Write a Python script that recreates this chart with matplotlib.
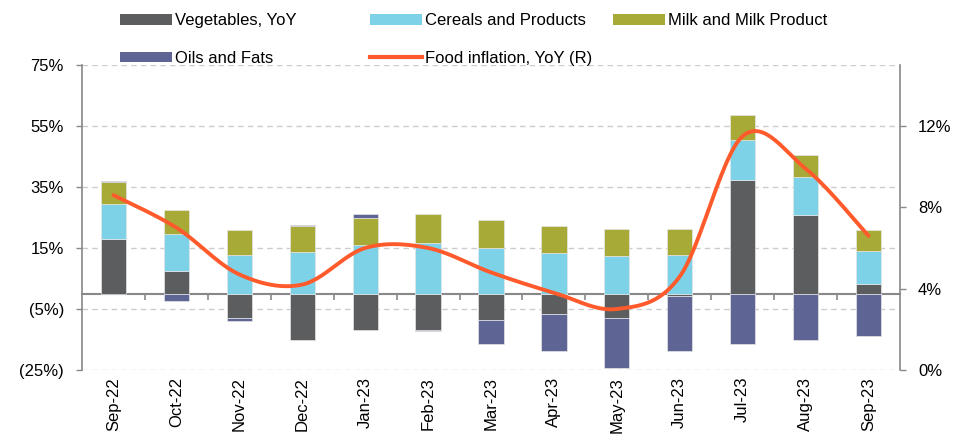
import numpy as np
import matplotlib.pyplot as plt
from matplotlib.patches import Patch
from matplotlib.lines import Line2D
from matplotlib.ticker import FuncFormatter

plt.rcParams["font.family"] = ["Liberation Sans", "DejaVu Sans"]
plt.rcParams["font.size"] = 12

months = ["Sep-22", "Oct-22", "Nov-22", "Dec-22", "Jan-23", "Feb-23", "Mar-23",
          "Apr-23", "May-23", "Jun-23", "Jul-23", "Aug-23", "Sep-23"]

# left axis, % YoY
vegetables = [17.8, 7.4, -8.1, -15.3, -11.9, -12.0, -8.7, -6.8, -8.1, -0.8, 37.2, 25.9, 3.2]
cereals = [11.7, 12.3, 12.7, 13.7, 16.1, 16.6, 15.0, 13.4, 12.5, 12.7, 13.1, 12.4, 10.9]
milk = [7.1, 7.6, 8.2, 8.5, 8.7, 9.6, 9.3, 8.9, 8.8, 8.4, 8.3, 7.2, 6.9]
oils = [0.4, -2.3, -0.9, 0.4, 1.4, -0.3, -7.8, -12.0, -16.2, -18.0, -16.5, -15.0, -13.9]

# right axis, %
food_inflation = [8.6, 7.0, 4.7, 4.2, 6.0, 6.0, 4.8, 3.8, 3.0, 4.6, 11.5, 9.9, 6.6]

series = [
    ("Vegetables, YoY", vegetables, "#5c5d5f"),
    ("Cereals and Products", cereals, "#7dd2e7"),
    ("Milk and Milk Product", milk, "#a7aa37"),
    ("Oils and Fats", oils, "#5e6595"),
]
line_color = "#ff5a2c"
axis_color = "#888888"


def smooth(xs, ys, n=30):
    """Excel-like smoothed line (Catmull-Rom as cubic Bezier)."""
    p = np.column_stack([xs, ys]).astype(float)
    p = np.vstack([p[0], p, p[-1]])
    t = np.linspace(0, 1, n)[:, None]
    out = []
    for i in range(1, len(p) - 2):
        p0, p1, p2, p3 = p[i - 1], p[i], p[i + 1], p[i + 2]
        c1 = p1 + (p2 - p0) / 6
        c2 = p2 - (p3 - p1) / 6
        seg = ((1 - t) ** 3) * p1 + 3 * ((1 - t) ** 2) * t * c1 + 3 * (1 - t) * t ** 2 * c2 + t ** 3 * p2
        out.append(seg if i == 1 else seg[1:])
    out = np.vstack(out)
    return out[:, 0], out[:, 1]


fig = plt.figure(figsize=(9.73, 4.40), dpi=100)
ax = fig.add_axes([82 / 973, 70 / 440, 818 / 973, 305 / 440])

x = np.arange(len(months))
pos_bottom = np.zeros(len(months))
neg_bottom = np.zeros(len(months))
for name, vals, color in series:
    v = np.array(vals)
    bottom = np.where(v >= 0, pos_bottom, neg_bottom)
    ax.bar(x, v, 0.4, bottom=bottom, color=color, edgecolor="#e6e6e6",
           linewidth=0.5, zorder=2)
    pos_bottom = pos_bottom + np.where(v >= 0, v, 0)
    neg_bottom = neg_bottom + np.where(v < 0, v, 0)

ax.set_xlim(-0.5, len(months) - 0.5)
ax.set_ylim(-25, 75)
ax.set_yticks(np.arange(-25, 76, 20))
ax.yaxis.set_major_formatter(FuncFormatter(
    lambda v, p: f"({abs(v):.0f}%)" if v < 0 else f"{v:.0f}%"))
ax.grid(axis="y", color="#cccccc", linestyle=(0, (4, 3)), linewidth=1.0, zorder=0)
ax.set_axisbelow(True)

ax.set_xticks(x)
ax.set_xticklabels(months, rotation=90)
ax.tick_params(axis="x", length=0, pad=5)
ax.tick_params(axis="y", length=4, color=axis_color, width=1, pad=9)
for s in ["top", "bottom", "right"]:
    ax.spines[s].set_visible(False)
ax.spines["left"].set_color(axis_color)
ax.spines["left"].set_linewidth(1.2)

# category axis drawn at zero
zero_ax = ax.secondary_xaxis(25 / 100)
zero_ax.set_xticks(np.arange(0.5, len(months) - 1, 1))
zero_ax.tick_params(axis="x", direction="out", length=4, color=axis_color,
                    width=1.2, labelbottom=False, labeltop=False)
zero_ax.spines["bottom"].set_color(axis_color)
zero_ax.spines["bottom"].set_linewidth(1.5)

ax2 = ax.twinx()
sx, sy = smooth(x, food_inflation)
ax2.plot(sx, sy, color=line_color, linewidth=2.8, solid_capstyle="round", zorder=3)
ax2.set_ylim(0, 15)
ax2.set_yticks([0, 4, 8, 12])
ax2.yaxis.set_major_formatter(FuncFormatter(lambda v, p: f"{v:.0f}%"))
ax2.tick_params(axis="y", length=4, color=axis_color, width=1, pad=9)
for s in ["top", "bottom", "left"]:
    ax2.spines[s].set_visible(False)
ax2.spines["right"].set_color(axis_color)
ax2.spines["right"].set_linewidth(1.2)

# legend, three columns placed like the original
h = {name: Patch(facecolor=c, edgecolor="none") for name, _, c in series}
h["Food inflation, YoY (R)"] = Line2D([], [], color=line_color, linewidth=3)
columns = [
    (112, ["Vegetables, YoY", "Oils and Fats"]),
    (362, ["Cereals and Products", "Food inflation, YoY (R)"]),
    (605, ["Milk and Milk Product"]),
]
for xpos, names in columns:
    fig.legend([h[n] for n in names], names, loc="upper left",
               bbox_to_anchor=(xpos / 973, 1 - 5 / 440), frameon=False,
               borderpad=0, handlelength=3.1, handleheight=0.6,
               handletextpad=0.2, labelspacing=1.35, fontsize=12)

fig.savefig("out.png", dpi=100)
